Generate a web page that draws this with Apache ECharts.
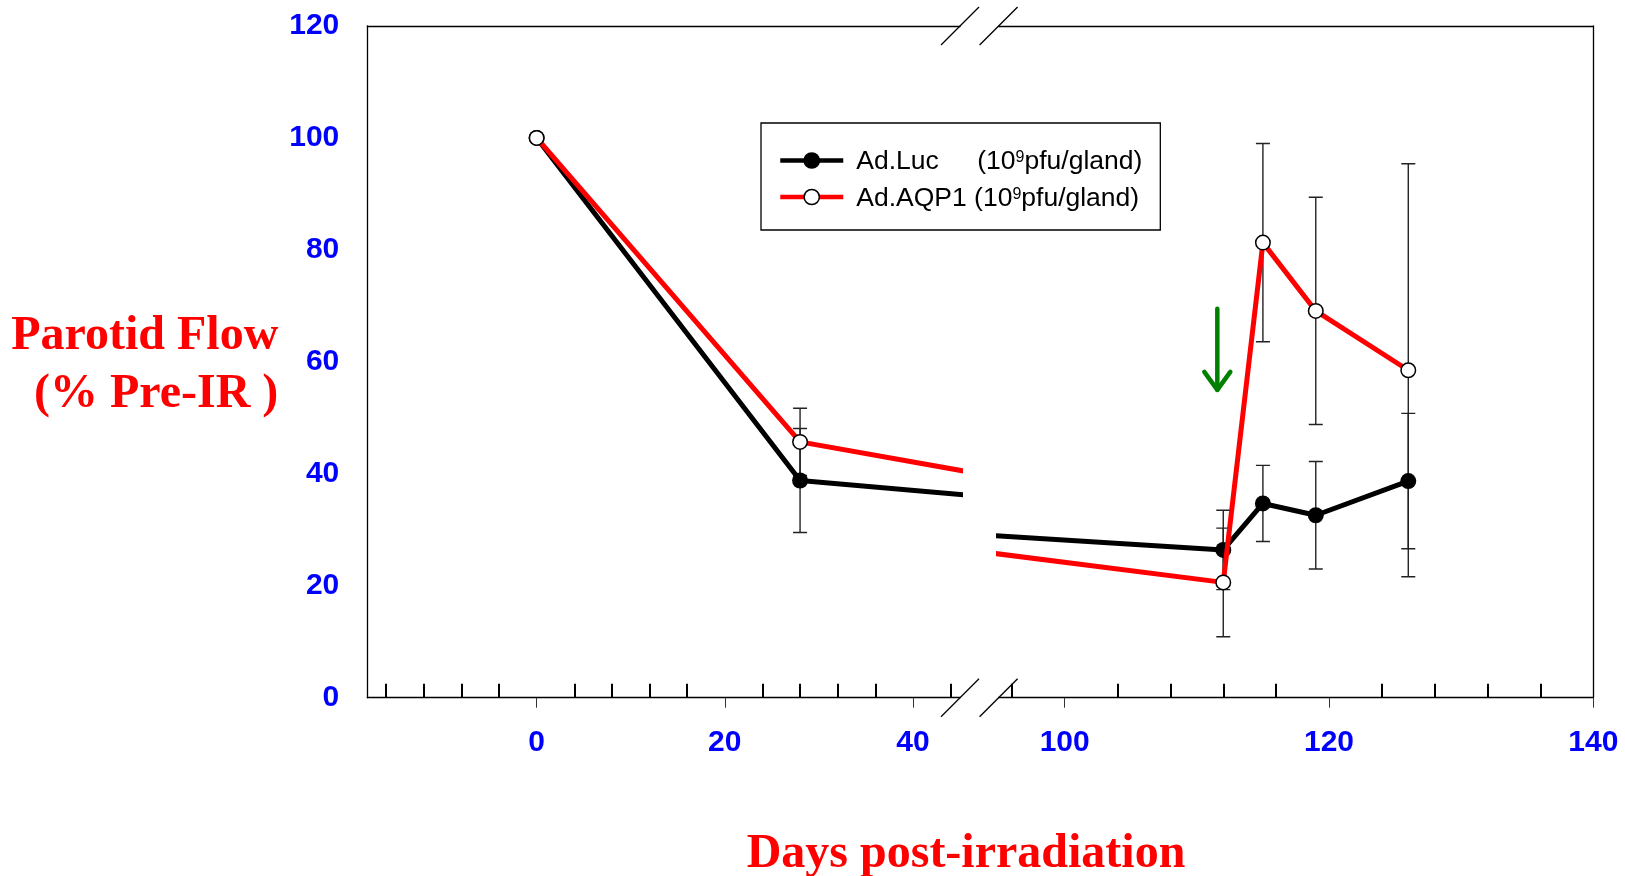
<!DOCTYPE html>
<html>
<head>
<meta charset="utf-8">
<script src="https://cdn.jsdelivr.net/npm/echarts@6/dist/echarts.min.js"></script>
<style>
html,body{margin:0;padding:0;background:#fff;}
#chart{width:1625px;height:876px;}
</style>
</head>
<body>
<div id="chart"></div>
<script>
// ---- data ----
const days = [0, 28, 112, 115, 119, 126];
const lucMean = [100, 38.8, 26.4, 34.7, 32.6, 38.7];
const lucErr = [0, 9.3, 7.1, 6.8, 9.6, 12.1];
const aqpMean = [100, 45.7, 20.6, 81.3, 69.1, 58.5];
const aqpErr = [0, 6.0, 9.7, 17.7, 20.3, 36.9];
const seriesNames = ['Ad.Luc', 'Ad.AQP1'];
const leftMajorTicks = [0, 20, 40];
const leftMinorTicks = [-16, -12, -8, -4, 4, 8, 12, 16, 24, 28, 32, 36, 44];
const rightMajorTicks = [100, 120, 140];
const rightMinorTicks = [96, 104, 108, 112, 116, 124, 128, 132, 136];
const leftRange = [-18, 45];
const rightRange = [95, 140];
const yRange = [0, 120];
const arrowDay = 111.55, arrowTop = 69.5, arrowTip = 55.0;
const yTitle = 'Parotid Flow\n(% Pre-IR )';
const xTitle = 'Days post-irradiation';

const lucData = days.map((d, i) => [d, lucMean[i]]);
const aqpData = days.map((d, i) => [d, aqpMean[i]]);
const lucErrData = days.map((d, i) => [d, lucMean[i], lucErr[i]]);
const aqpErrData = days.map((d, i) => [d, aqpMean[i], aqpErr[i]]);

const chart = echarts.init(document.getElementById('chart'), null, {renderer: 'canvas'});

const AX = '#000';
const SANS = 'Liberation Sans, Arial, sans-serif';
const labelStyle = {color: '#0000FF', fontWeight: 'bold', fontSize: 30, fontFamily: SANS};

function majorAxis(grid, range, ticks) {
  return {
    type: 'value', gridIndex: grid, position: 'bottom', min: range[0], max: range[1],
    axisLine: {show: true, onZero: false, lineStyle: {color: AX, width: 1.3}},
    axisTick: {show: true, inside: false, length: 10, customValues: ticks, lineStyle: {color: '#333', width: 1}},
    axisLabel: {show: true, customValues: ticks, margin: 30, ...labelStyle},
    splitLine: {show: false}
  };
}
function minorAxis(grid, range, ticks) {
  return {
    type: 'value', gridIndex: grid, position: 'bottom', min: range[0], max: range[1],
    axisLine: {show: false, onZero: false},
    axisTick: {show: true, inside: true, length: 14, customValues: ticks, lineStyle: {color: '#000', width: 2}},
    axisLabel: {show: false},
    splitLine: {show: false}
  };
}
function topAxis(grid, range) {
  return {
    type: 'value', gridIndex: grid, position: 'top', min: range[0], max: range[1],
    axisLine: {show: true, onZero: false, lineStyle: {color: AX, width: 1.3}},
    axisTick: {show: false}, axisLabel: {show: false}, splitLine: {show: false}
  };
}

function errRender(params, api) {
  const x = api.value(0), m = api.value(1), e = api.value(2);
  if (!e) return;
  const t = api.coord([x, m + e]);
  const b = api.coord([x, m - e]);
  const hw = 7;
  const st = {stroke: '#222', lineWidth: 1.4};
  return {
    type: 'group',
    children: [
      {type: 'line', shape: {x1: t[0], y1: t[1], x2: b[0], y2: b[1]}, style: st},
      {type: 'line', shape: {x1: t[0] - hw, y1: t[1], x2: t[0] + hw, y2: t[1]}, style: st},
      {type: 'line', shape: {x1: b[0] - hw, y1: b[1], x2: b[0] + hw, y2: b[1]}, style: st}
    ]
  };
}

function lineSeries(name, data, xi, yi, isLuc) {
  return {
    type: 'line', name: name, data: data, xAxisIndex: xi, yAxisIndex: yi,
    clip: true, z: isLuc ? 3 : 4, animation: false,
    symbol: 'circle', symbolSize: isLuc ? 16 : 14.5,
    lineStyle: {color: isLuc ? '#000' : '#FF0000', width: 5},
    itemStyle: isLuc ? {color: '#000', borderColor: '#000', borderWidth: 0}
                     : {color: '#fff', borderColor: '#000', borderWidth: 1.5},
    emphasis: {disabled: true}
  };
}
function errSeries(name, data, xi, yi) {
  return {
    type: 'custom', name: name + ' err', data: data, xAxisIndex: xi, yAxisIndex: yi,
    clip: true, z: 2, animation: false, silent: true,
    renderItem: errRender, encode: {x: 0, y: 1}
  };
}

const option = {
  animation: false,
  backgroundColor: '#fff',
  grid: [
    {left: 367.3, top: 26, width: 592.7, height: 671.7, containLabel: false},
    {left: 998.6, top: 26, width: 594.7, height: 671.7, containLabel: false}
  ],
  xAxis: [
    majorAxis(0, leftRange, leftMajorTicks),
    minorAxis(0, leftRange, leftMinorTicks),
    topAxis(0, leftRange),
    majorAxis(1, rightRange, rightMajorTicks),
    minorAxis(1, rightRange, rightMinorTicks),
    topAxis(1, rightRange)
  ],
  yAxis: [
    {
      type: 'value', gridIndex: 0, position: 'left', min: yRange[0], max: yRange[1], interval: 20,
      axisLine: {show: true, onZero: false, lineStyle: {color: AX, width: 1.3}},
      axisTick: {show: false},
      axisLabel: {show: true, margin: 28, ...labelStyle},
      splitLine: {show: false}
    },
    {
      type: 'value', gridIndex: 1, position: 'right', min: yRange[0], max: yRange[1], interval: 20,
      axisLine: {show: true, onZero: false, lineStyle: {color: AX, width: 1.3}},
      axisTick: {show: false}, axisLabel: {show: false}, splitLine: {show: false}
    }
  ],
  legend: {
    data: seriesNames,
    orient: 'vertical',
    left: 761, top: 123,
    padding: [23, 18, 18, 17],
    itemGap: 7,
    itemWidth: 63, itemHeight: 19,
    borderColor: '#000', borderWidth: 1.3,
    selectedMode: false,
    lineStyle: {width: 4.5},
    itemStyle: {borderWidth: 1.5},
    textStyle: {
      fontFamily: SANS, fontSize: 26.5, color: '#000', lineHeight: 26,
      padding: [3, 0, 0, 8],
      rich: {
        n: {fontFamily: SANS, fontSize: 26.5, color: '#000', width: 121, lineHeight: 26},
        s: {fontFamily: SANS, fontSize: 16, color: '#000', verticalAlign: 'top', lineHeight: 16, padding: [1, 0, 0, 0]}
      }
    },
    formatter: function (name) {
      return name === 'Ad.Luc' ? '{n|Ad.Luc}(10{s|9}pfu/gland)' : 'Ad.AQP1 (10{s|9}pfu/gland)';
    }
  },
  series: [
    errSeries('Ad.Luc', lucErrData, 0, 0),
    errSeries('Ad.AQP1', aqpErrData, 0, 0),
    errSeries('Ad.Luc', lucErrData, 3, 1),
    errSeries('Ad.AQP1', aqpErrData, 3, 1),
    lineSeries('Ad.Luc', lucData, 0, 0, true),
    lineSeries('Ad.AQP1', aqpData, 0, 0, false),
    lineSeries('Ad.Luc', lucData, 3, 1, true),
    lineSeries('Ad.AQP1', aqpData, 3, 1, false),
    {
      type: 'custom', name: 'arrow', xAxisIndex: 3, yAxisIndex: 1, z: 5, animation: false, silent: true,
      data: [[arrowDay, arrowTop, arrowTip]],
      encode: {x: 0, y: 1},
      renderItem: function (params, api) {
        const top = api.coord([api.value(0), api.value(1)]);
        const tip = api.coord([api.value(0), api.value(2)]);
        const st = {stroke: '#008000', lineWidth: 4.5, lineCap: 'round', lineJoin: 'round', fill: null};
        return {
          type: 'group',
          children: [
            {type: 'line', shape: {x1: top[0], y1: top[1], x2: tip[0], y2: tip[1]}, style: st},
            {type: 'polyline', shape: {points: [[tip[0] - 13, tip[1] - 18], [tip[0], tip[1]], [tip[0] + 13, tip[1] - 18]]}, style: st}
          ]
        };
      }
    }
  ]
};
chart.setOption(option);

// break marks and axis titles (positions derived from the axes)
const xLeftStart = chart.convertToPixel({xAxisIndex: 0}, leftRange[0]);
const xLeftEnd = chart.convertToPixel({xAxisIndex: 0}, leftRange[1]);
const xRightStart = chart.convertToPixel({xAxisIndex: 3}, rightRange[0]);
const yBottom = chart.convertToPixel({yAxisIndex: 0}, yRange[0]);
const yTop = chart.convertToPixel({yAxisIndex: 0}, yRange[1]);
const s = 19;
const gfx = [];
[xLeftEnd, xRightStart].forEach(function (cx) {
  [yBottom, yTop].forEach(function (cy) {
    gfx.push({type: 'line', shape: {x1: cx - s, y1: cy + s, x2: cx + s, y2: cy - s}, style: {stroke: '#000', lineWidth: 1.3}, z: 10});
  });
});
const titleFont = 'bold 48px "Liberation Serif", "Times New Roman", serif';
gfx.push({
  type: 'text', x: 966, y: 854.5, z: 10,
  style: {text: xTitle, align: 'center', verticalAlign: 'middle', font: titleFont, fill: '#FF0000'}
});
gfx.push({
  type: 'text', x: xLeftStart - 89, y: (yBottom + yTop) / 2 + 4, z: 10,
  style: {text: yTitle, align: 'right', verticalAlign: 'middle', font: titleFont, lineHeight: 58, fill: '#FF0000'}
});
chart.setOption({graphic: gfx});
</script>
</body>
</html>
